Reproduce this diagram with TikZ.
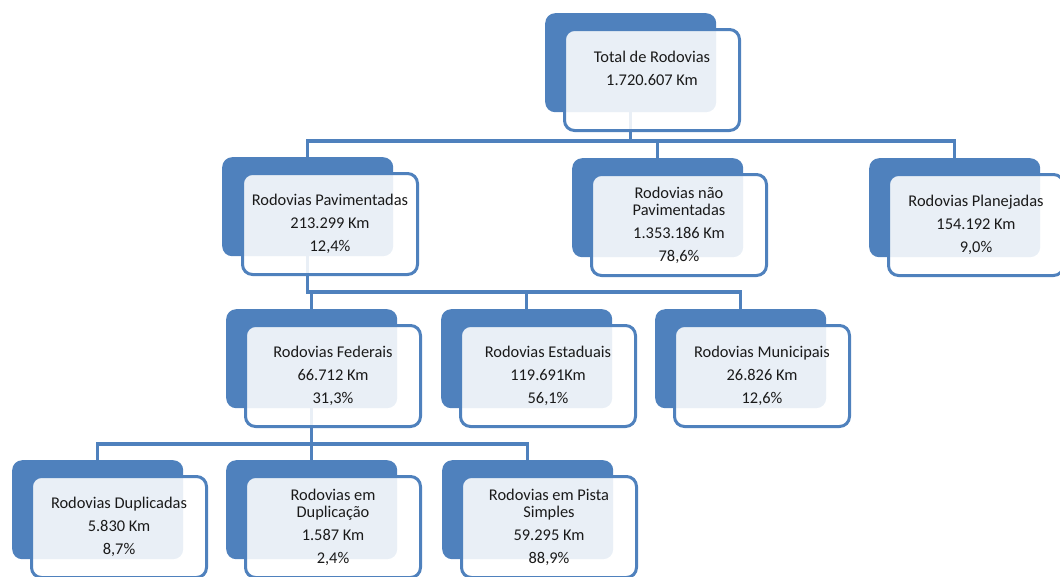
\documentclass[tikz,border=0pt]{standalone}
\usepackage{fontspec}
\setmainfont{Carlito}

\definecolor{rodblue}{HTML}{4F81BD}
\definecolor{rodtext}{HTML}{1A1A1A}

\begin{document}
\begin{tikzpicture}[x=1pt,y=-1pt,
    link/.style={draw=rodblue,line width=3.2pt}]

      \useasboundingbox (0,0) rectangle (1060,576);

      % back cards
      \begin{scope}[every node/.style={rectangle,rounded corners=10pt,fill=rodblue,
          anchor=north west,minimum width=171pt,minimum height=99pt,inner sep=0pt}]
        \node (total-b) at (545,13)  {};
        \node (pav-b)   at (222,157) {};
        \node (nao-b)   at (572,158) {};
        \node (plan-b)  at (869,158) {};
        \node (fed-b)   at (226,309) {};
        \node (est-b)   at (441,309) {};
        \node (mun-b)   at (655,309) {};
        \node (dup-b)   at (12,460)  {};
        \node (emdup-b) at (226,460) {};
        \node (pista-b) at (442,460) {};
      \end{scope}

      \coordinate (bus1) at (0,141);
      \coordinate (bus2) at (0,292);
      \coordinate (bus3) at (0,444);

      \draw[link] (total-b.south) |- (bus1 -| pav-b.north)  -- (pav-b.north);
      \draw[link] (total-b.south) |- (bus1 -| nao-b.north)  -- (nao-b.north);
      \draw[link] (total-b.south) |- (bus1 -| plan-b.north) -- (plan-b.north);

      \draw[link] (pav-b.south) |- (bus2 -| fed-b.north) -- (fed-b.north);
      \draw[link] (pav-b.south) |- (bus2 -| est-b.north) -- (est-b.north);
      \draw[link] (pav-b.south) |- (bus2 -| mun-b.north) -- (mun-b.north);

      \draw[link] (fed-b.south) |- (bus3 -| dup-b.north)   -- (dup-b.north);
      \draw[link] (fed-b.south) |- (bus3 -| emdup-b.north) -- (emdup-b.north);
      \draw[link] (fed-b.south) |- (bus3 -| pista-b.north) -- (pista-b.north);

      % front cards
      \begin{scope}[every node/.style={rectangle,rounded corners=10pt,draw=rodblue,line width=3pt,
          fill=white,fill opacity=.88,text opacity=1,text=rodtext,anchor=north west,
          minimum width=175pt,minimum height=101pt,align=center,
          font=\fontsize{16.4}{17}\selectfont}]
        \node (total) at (563,28)  {Total de Rodovias\\[6pt]1.720.607 Km\\[6pt]~};
        \node (pav)   at (241,172) {Rodovias Pavimentadas\\[6pt]213.299 Km\\[6pt]12,4\%};
        \node (nao)   at (590,173) {Rodovias não\\Pavimentadas\\[6pt]1.353.186 Km\\[6pt]78,6\%};
        \node (plan)  at (887,173) {Rodovias Planejadas\\[6pt]154.192 Km\\[6pt]9,0\%};
        \node (fed)   at (244,324) {Rodovias Federais\\[6pt]66.712 Km\\[6pt]31,3\%};
        \node (est)   at (459,324) {Rodovias Estaduais\\[6pt]119.691Km\\[6pt]56,1\%};
        \node (mun)   at (673,324) {Rodovias Municipais\\[6pt]26.826 Km\\[6pt]12,6\%};
        \node (dup)   at (30,475)  {Rodovias Duplicadas\\[6pt]5.830 Km\\[6pt]8,7\%};
        \node (emdup) at (244,475) {Rodovias em\\Duplicação\\[6pt]1.587 Km\\[6pt]2,4\%};
        \node (pista) at (460,475) {Rodovias em Pista\\Simples\\[6pt]59.295 Km\\[6pt]88,9\%};
      \end{scope}

    \end{tikzpicture}
\end{document}
